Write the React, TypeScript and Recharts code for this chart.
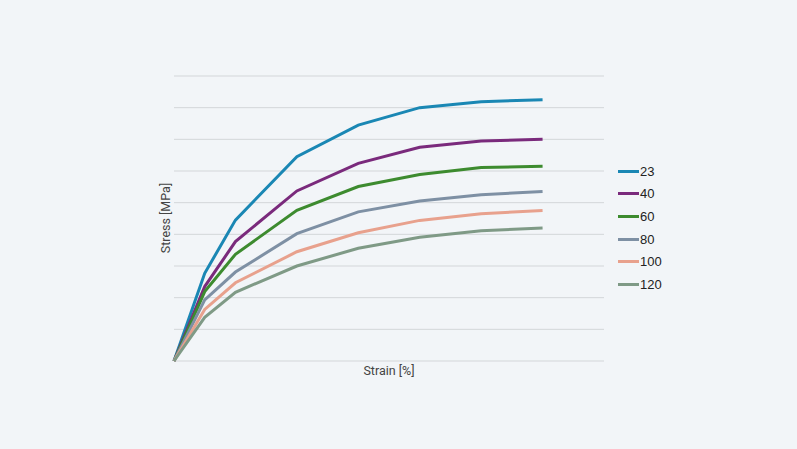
import React from 'react';
import { LineChart, Line, XAxis, YAxis, CartesianGrid } from 'recharts';

const strain = [0, 0.5, 1, 2, 3, 4, 5, 6];
const s23 = [0, 2.77, 4.45, 6.45, 7.45, 8.0, 8.19, 8.25];
const s40 = [0, 2.35, 3.77, 5.37, 6.24, 6.75, 6.95, 7.0];
const s60 = [0, 2.19, 3.37, 4.76, 5.51, 5.89, 6.11, 6.15];
const s80 = [0, 1.93, 2.81, 4.02, 4.71, 5.05, 5.25, 5.35];
const s100 = [0, 1.63, 2.47, 3.45, 4.05, 4.44, 4.65, 4.75];
const s120 = [0, 1.38, 2.17, 3.0, 3.56, 3.91, 4.11, 4.2];
const yTicks = [0, 1, 2, 3, 4, 5, 6, 7, 8, 9];

const series = [
  { key: 't23', name: '23', values: s23, color: '#1a87b4' },
  { key: 't40', name: '40', values: s40, color: '#7a2a7c' },
  { key: 't60', name: '60', values: s60, color: '#3d8b2f' },
  { key: 't80', name: '80', values: s80, color: '#7e90a4' },
  { key: 't100', name: '100', values: s100, color: '#e8a18d' },
  { key: 't120', name: '120', values: s120, color: '#7f9a86' },
];

const data = strain.map((x, i) => {
  const row: Record<string, number> = { x };
  series.forEach((s) => { row[s.key] = s.values[i]; });
  return row;
});

const labelStyle: React.CSSProperties = {
  position: 'absolute',
  fontFamily: 'Roboto, sans-serif',
  fontSize: 12.5,
  color: '#444',
  whiteSpace: 'nowrap',
};

export default function App() {
  return (
    <div style={{ position: 'absolute', left: 0, top: 0, width: 797, height: 449, background: '#f2f5f8', overflow: 'hidden' }}>
      <LineChart width={797} height={449} data={data} margin={{ top: 76, left: 174, right: 193, bottom: 88 }}>
        <CartesianGrid vertical={false} stroke="#d3d6d9" strokeWidth={1} />
        <XAxis dataKey="x" type="number" domain={[0, 7]} hide />
        <YAxis type="number" domain={[0, 9]} ticks={yTicks} hide />
        {series.map((s) => (
          <Line
            key={s.key}
            dataKey={s.key}
            name={s.name}
            stroke={s.color}
            strokeWidth={3}
            dot={false}
            activeDot={false}
            isAnimationActive={false}
            strokeLinejoin="miter"
          />
        ))}
      </LineChart>
      <div style={{ position: 'absolute', left: 618, top: 160, fontFamily: '"Liberation Sans", Arial, sans-serif', fontSize: 13, color: '#222' }}>
        {series.map((s) => (
          <div key={s.key} style={{ display: 'flex', alignItems: 'center', height: 22.6 }}>
            <span style={{ display: 'inline-block', width: 21, height: 3, background: s.color, marginRight: 1 }} />
            <span>{s.name}</span>
          </div>
        ))}
      </div>
      <div style={{ ...labelStyle, left: 389, top: 370, transform: 'translate(-50%, -50%)' }}>
        Strain [%]
      </div>
      <div style={{ ...labelStyle, left: 165, top: 218, transform: 'translate(-50%, -50%) rotate(-90deg)' }}>
        Stress [MPa]
      </div>
    </div>
  );
}
